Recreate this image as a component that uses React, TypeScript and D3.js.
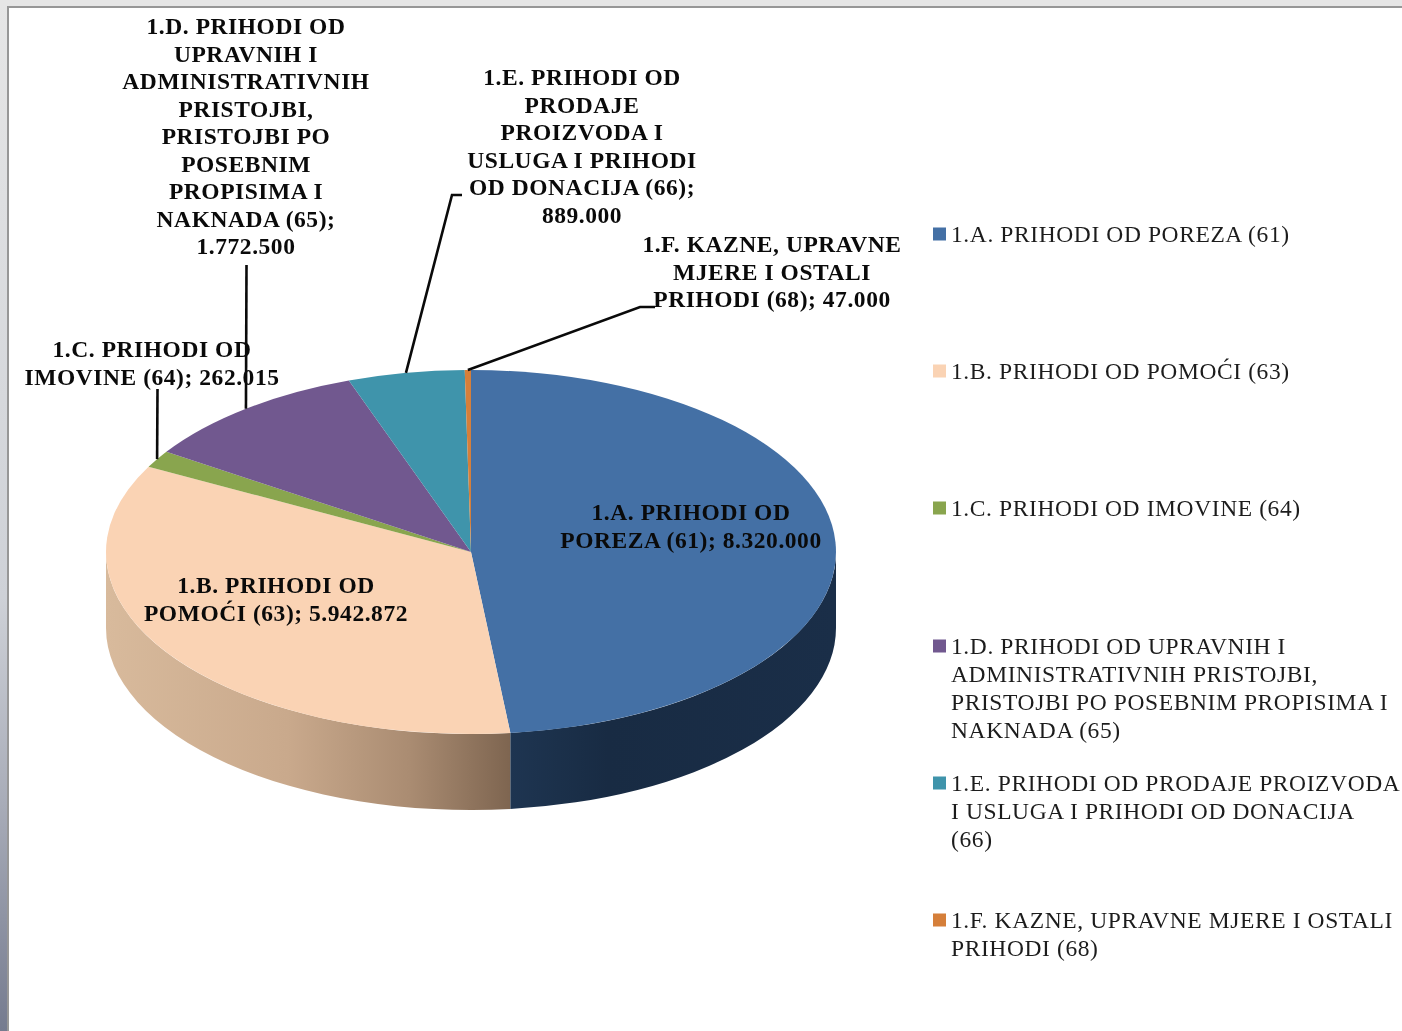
import { useMemo } from 'react';
import * as d3 from 'd3';

const categories = [
  '1.A. PRIHODI OD POREZA (61)',
  '1.B. PRIHODI OD POMOĆI (63)',
  '1.C. PRIHODI OD IMOVINE (64)',
  '1.D. PRIHODI OD UPRAVNIH I ADMINISTRATIVNIH PRISTOJBI, PRISTOJBI PO POSEBNIM PROPISIMA I NAKNADA (65)',
  '1.E. PRIHODI OD PRODAJE PROIZVODA I USLUGA I PRIHODI OD DONACIJA (66)',
  '1.F. KAZNE, UPRAVNE MJERE I OSTALI PRIHODI (68)',
];
const values = [8320000, 5942872, 262015, 1772500, 889000, 47000];
const colors = ['#4470a5', '#fad3b4', '#89a54e', '#71588f', '#3f94ab', '#d57f3a'];

// wrapped the way the picture wraps them, {v} is the formatted value
const labelLines = [
  ['1.A. PRIHODI OD', 'POREZA (61); {v}'],
  ['1.B. PRIHODI OD', 'POMOĆI (63); {v}'],
  ['1.C. PRIHODI OD', 'IMOVINE (64); {v}'],
  ['1.D. PRIHODI OD', 'UPRAVNIH I', 'ADMINISTRATIVNIH', 'PRISTOJBI,', 'PRISTOJBI PO', 'POSEBNIM', 'PROPISIMA I', 'NAKNADA (65);', '{v}'],
  ['1.E. PRIHODI OD', 'PRODAJE', 'PROIZVODA I', 'USLUGA I PRIHODI', 'OD DONACIJA (66);', '{v}'],
  ['1.F. KAZNE, UPRAVNE', 'MJERE I OSTALI', 'PRIHODI (68); {v}'],
];
const legendLines = [
  ['1.A. PRIHODI OD POREZA (61)'],
  ['1.B. PRIHODI OD POMOĆI (63)'],
  ['1.C. PRIHODI OD IMOVINE (64)'],
  ['1.D. PRIHODI OD UPRAVNIH I', 'ADMINISTRATIVNIH PRISTOJBI,', 'PRISTOJBI PO POSEBNIM PROPISIMA I', 'NAKNADA (65)'],
  ['1.E. PRIHODI OD PRODAJE PROIZVODA', 'I USLUGA I PRIHODI OD DONACIJA', '(66)'],
  ['1.F. KAZNE, UPRAVNE MJERE I OSTALI', 'PRIHODI (68)'],
];

const WIDTH = 1402;
const HEIGHT = 1031;
const cx = 471;
const cy = 552;
const rx = 365;
const ry = 182;
const depth = 76;
const FONT = '"Liberation Serif", "Times New Roman", serif';

// label centre and first baseline
const labelPos = [
  { x: 691, y: 520 },
  { x: 276, y: 593 },
  { x: 152, y: 357 },
  { x: 246, y: 34 },
  { x: 582, y: 85 },
  { x: 772, y: 252 },
];
// leader start, elbow points before the slice. Slices A and B have none
const leaderStart: ([number, number][] | null)[] = [
  null,
  null,
  [[157.5, 389]],
  [[246.5, 265]],
  [[462, 195], [452, 195]],
  [[655, 307], [640, 307]],
];
const legendTop = [241.5, 378.5, 515.5, 653.5, 790.5, 927.5];

const numberFormat = d3.formatLocale({
  decimal: ',',
  thousands: '.',
  grouping: [3],
  currency: ['', ''],
}).format(',d');

const onEllipse = (a: number, dy = 0): [number, number] => [
  cx + rx * Math.sin(a),
  cy - ry * Math.cos(a) + dy,
];

// front wall between two pie angles
const wallPath = (a0: number, a1: number) => {
  const [x0, y0] = onEllipse(a0);
  const [x1, y1] = onEllipse(a1);
  return `M${x0},${y0}A${rx},${ry} 0 0 1 ${x1},${y1}L${x1},${y1 + depth}A${rx},${ry} 0 0 0 ${x0},${y0 + depth}Z`;
};

const App = () => {
  const arcs = useMemo(() => d3.pie<number>().sort(null).value((d) => d)(values), []);
  const arc = d3.arc<d3.PieArcDatum<number>>().innerRadius(0).outerRadius(rx);
  const leader = d3.line();

  const blueEnd = arcs[0].endAngle;
  const peachEnd = Math.PI * 1.5;

  return (
    <svg
      width={WIDTH}
      height={HEIGHT}
      viewBox={`0 0 ${WIDTH} ${HEIGHT}`}
      style={{ position: 'absolute', left: 0, top: 0, display: 'block', filter: 'blur(0.45px)' }}
    >
      <defs>
        <linearGradient id="sideBand" x1="0" y1="0" x2="0" y2="1">
          <stop offset="0%" stopColor="#e6e6e6" />
          <stop offset="58%" stopColor="#ced1d7" />
          <stop offset="78%" stopColor="#a8acb8" />
          <stop offset="100%" stopColor="#757b8f" />
        </linearGradient>
        <linearGradient id="peachWall" gradientUnits="userSpaceOnUse" x1={cx - rx} y1="0" x2={onEllipse(blueEnd)[0]} y2="0">
          <stop offset="0%" stopColor="#d8ba9c" />
          <stop offset="45%" stopColor="#c9a98c" />
          <stop offset="75%" stopColor="#aa8c72" />
          <stop offset="100%" stopColor="#7e6550" />
        </linearGradient>
        <linearGradient id="blueWall" gradientUnits="userSpaceOnUse" x1={onEllipse(blueEnd)[0]} y1="0" x2={cx + rx} y2="0">
          <stop offset="0%" stopColor="#1e3551" />
          <stop offset="30%" stopColor="#182b43" />
          <stop offset="100%" stopColor="#1a2e48" />
        </linearGradient>
      </defs>

      <rect width={WIDTH} height={HEIGHT} fill="#ffffff" />
      <rect x={0} y={0} width={WIDTH} height={7} fill="#e6e6e6" />
      <rect x={0} y={0} width={8} height={HEIGHT} fill="url(#sideBand)" />
      <path d={`M8,${HEIGHT}V7H${WIDTH}`} fill="none" stroke="#979797" strokeWidth={2} />

      <path d={wallPath(blueEnd, peachEnd)} fill="url(#peachWall)" />
      <path d={wallPath(Math.PI / 2, blueEnd)} fill="url(#blueWall)" />

      <g transform={`translate(${cx},${cy}) scale(1,${ry / rx})`}>
        {arcs.map((d, i) => (
          <path key={i} d={arc(d) ?? ''} fill={colors[i]} />
        ))}
      </g>

      {labelLines.map((lines, i) => (
        <text key={i} textAnchor="middle" fontFamily={FONT} fontWeight="bold" fontSize={23.5} letterSpacing={0.55} fill="#0a0a0a">
          {lines.map((line, j) => (
            <tspan key={j} x={labelPos[i].x} y={labelPos[i].y + j * 27.5}>
              {line.replace('{v}', numberFormat(values[i]))}
            </tspan>
          ))}
        </text>
      ))}

      {arcs.map((d, i) => {
        const start = leaderStart[i];
        if (!start) return null;
        const mid = (d.startAngle + d.endAngle) / 2;
        return (
          <path key={i} d={leader([...start, onEllipse(mid)]) ?? ''} fill="none" stroke="#0a0a0a" strokeWidth={2.6} />
        );
      })}

      {legendLines.map((lines, i) => (
        <g key={i}>
          <rect x={933} y={legendTop[i] - 14} width={13} height={13} fill={colors[i]} />
          <text fontFamily={FONT} fontSize={23.5} letterSpacing={0.6} fill="#1c1c1c">
            {lines.map((line, j) => (
              <tspan key={j} x={951} y={legendTop[i] + j * 28.2}>
                {line}
              </tspan>
            ))}
          </text>
        </g>
      ))}
      <title>{categories.join('; ')}</title>
    </svg>
  );
};

export default App;
